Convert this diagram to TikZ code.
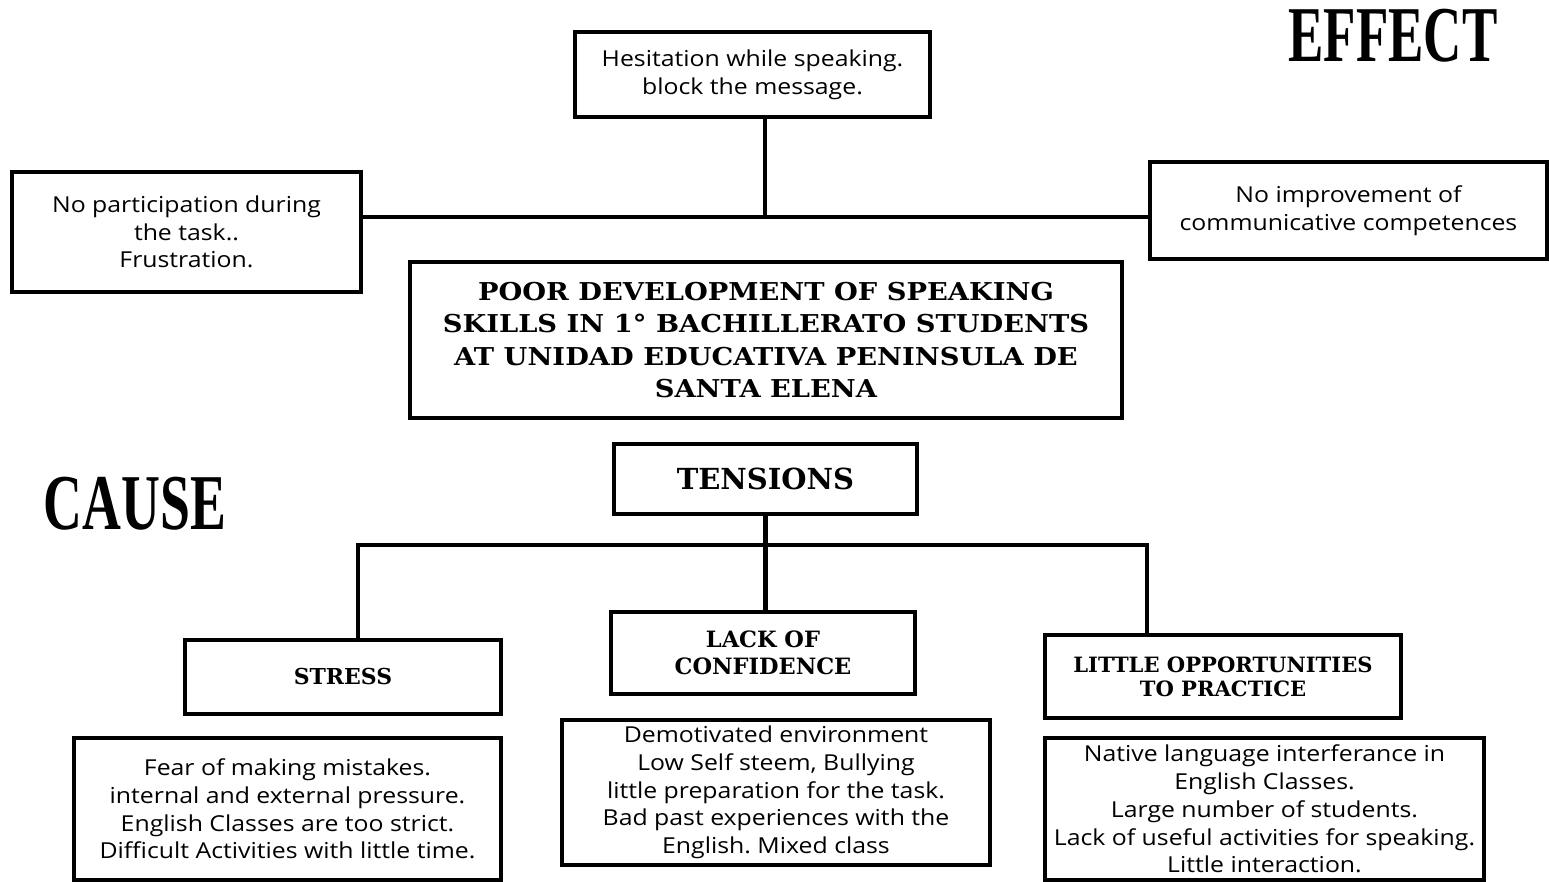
\documentclass[tikz,border=0pt]{standalone}
\usepackage{fontspec}
\setmainfont{Open Sans}[FakeStretch=1.13]
\newfontfamily\headfont{DejaVu Serif}
\newfontfamily\probfont{DejaVu Serif}[FakeStretch=1.11]
\newfontfamily\sidefont{Liberation Serif}
\usepackage{tikz}
\usetikzlibrary{positioning,calc}
\definecolor{base03}{RGB}{0,0,0}
\frenchspacing

\begin{document}
\begin{tikzpicture}[x=0.02cm,y=-0.02cm,
    box/.style={draw=base03,line width=2.6pt,align=center,inner sep=2pt,
        font=\fontsize{12.5}{15.8}\selectfont},
    headbox/.style={box,font=\headfont\bfseries\fontsize{14}{18.5}\selectfont},
    sidelabel/.style={font=\sidefont\bfseries\fontsize{45}{45}\selectfont,inner sep=0pt},
    link/.style={draw=base03,line width=2.6pt}]
    \useasboundingbox (0,0) rectangle (1549,882);
    % effects
    \node[sidelabel] (effect) at (1393,36) {\scalebox{0.67}[1]{EFFECT}};
    \node[box,minimum width=7.1cm,minimum height=1.7cm] (hes) at (752.5,74.5)
        {Hesitation while speaking.\\block the message.};
    \node[box,minimum width=6.98cm,minimum height=2.4cm] (nop) at (186.5,232)
        {No participation during\\the task..\\Frustration.};
    \node[box,minimum width=7.94cm,minimum height=1.94cm] (noi) at (1348.5,210.5)
        {No improvement of\\communicative competences};
    \coordinate (ej) at (765,217);
    \draw[link] (nop.east |- ej) -- (noi.west |- ej);
    \draw[link] (hes.south -| ej) -- (ej);
    % problem
    \node[headbox,font=\probfont\bfseries\fontsize{14}{18.5}\selectfont,minimum width=14.24cm,minimum height=3.12cm] (prob) at (766,340)
        {POOR DEVELOPMENT OF SPEAKING\\SKILLS IN 1\textdegree{} BACHILLERATO STUDENTS\\AT UNIDAD EDUCATIVA PENINSULA DE\\SANTA ELENA};
    % causes
    \node[sidelabel] (cause) at (135,504) {\scalebox{0.68}[1]{CAUSE}};
    \node[headbox,font=\headfont\bfseries\fontsize{16.5}{18}\selectfont,minimum width=6.06cm,minimum height=1.4cm] (ten) at (765.5,479) {TENSIONS};
    \node[headbox,font=\headfont\bfseries\fontsize{12.5}{15}\selectfont,minimum width=6.32cm,minimum height=1.48cm] (stress) at (343,677) {STRESS};
    \node[headbox,font=\headfont\bfseries\fontsize{12.8}{15.5}\selectfont,minimum width=6.08cm,minimum height=1.64cm] (lack) at (763,653) {LACK OF\\CONFIDENCE};
    \node[headbox,font=\headfont\bfseries\fontsize{12}{13.5}\selectfont,minimum width=7.12cm,minimum height=1.66cm] (little) at (1223,676.5) {LITTLE OPPORTUNITIES\\TO PRACTICE};
    \coordinate (cl) at (358,545);
    \coordinate (cr) at (1147,545);
    \draw[link] (ten.south) -- (ten.south |- lack.north);
    \draw[link] (stress.north -| cl) -- (cl) -- (cr) -- (little.north -| cr);
    \node[box,minimum width=8.54cm,minimum height=2.84cm] (fear) at (287.5,809)
        {Fear of making mistakes.\\internal and external pressure.\\English Classes are too strict.\\Difficult Activities with little time.};
    \node[box,minimum width=8.56cm,minimum height=2.9cm] (demo) at (776,792.5)
        {Demotivated environment\\Low Self steem, Bullying\\little preparation for the task.\\Bad past experiences with the\\English. Mixed class};
    \node[box,minimum width=8.78cm,minimum height=2.84cm] (native) at (1264.5,809)
        {Native language interferance in\\English Classes.\\Large number of students.\\Lack of useful activities for speaking.\\Little interaction.};
\end{tikzpicture}
\end{document}
